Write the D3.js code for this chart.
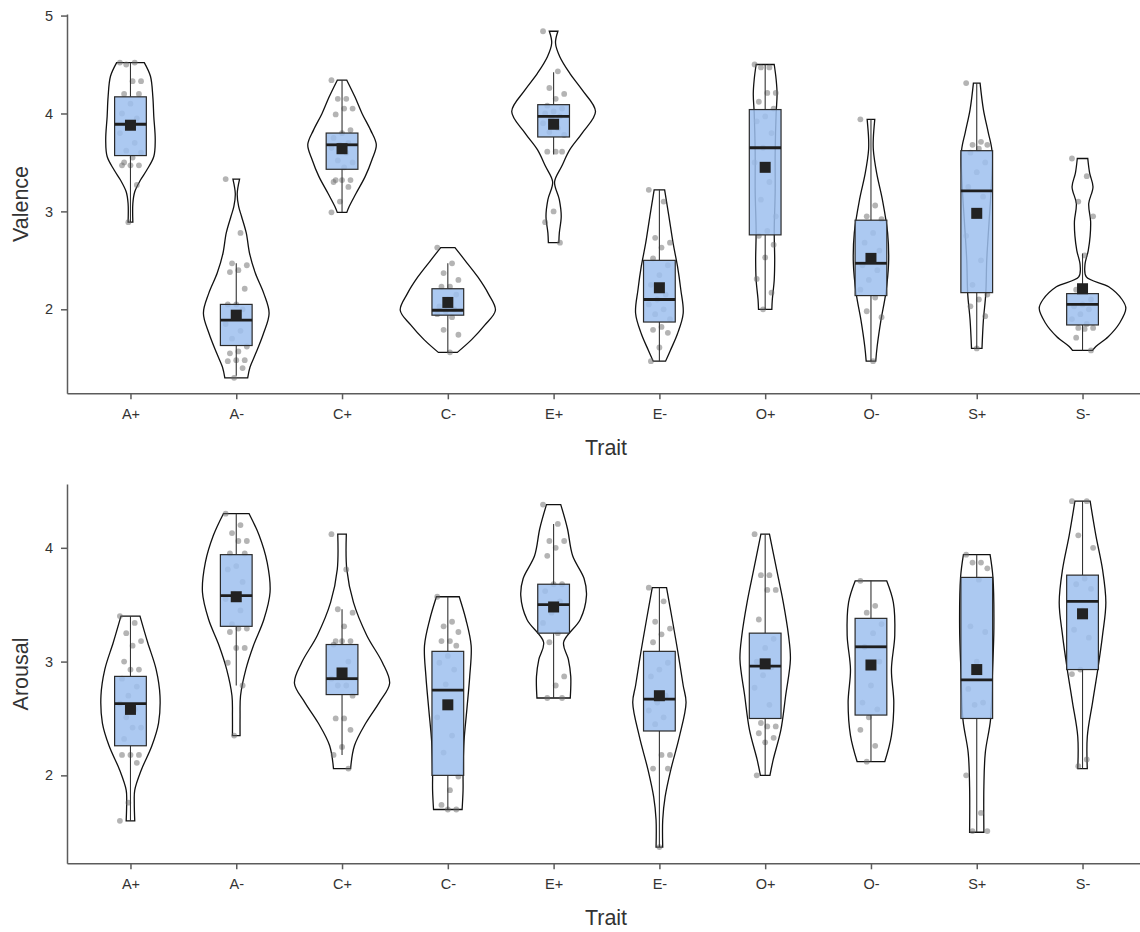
<!DOCTYPE html>
<html>
<head>
<meta charset="utf-8">
<script src="https://cdn.jsdelivr.net/npm/d3@7"></script>
<style>
  body { margin: 0; background: #fff; }
  svg { display: block; font-family: "Liberation Sans", Arial, sans-serif; }
</style>
</head>
<body>
<svg id="chart" width="1140" height="932"></svg>
<script>
// categories
const traits = ['A+', 'A-', 'C+', 'C-', 'E+', 'E-', 'O+', 'O-', 'S+', 'S-'];

// y axes
const valenceDomain = [1.142, 5.016];
const valenceTicks = [2, 3, 4, 5];
const arousalDomain = [1.227, 4.561];
const arousalTicks = [2, 3, 4];

// box stats per trait: [lower whisker, q1, median, q3, upper whisker, mean]
const valenceStats = [
  [2.89, 3.57, 3.89, 4.17, 4.52, 3.88],
  [1.32, 1.63, 1.89, 2.05, 2.47, 1.94],
  [2.99, 3.43, 3.68, 3.80, 4.34, 3.64],
  [1.56, 1.94, 1.99, 2.21, 2.47, 2.07],
  [3.58, 3.76, 3.97, 4.09, 4.42, 3.89],
  [1.47, 1.87, 2.10, 2.50, 3.22, 2.22],
  [2.00, 2.76, 3.65, 4.04, 4.50, 3.45],
  [1.47, 2.14, 2.47, 2.91, 3.94, 2.52],
  [1.60, 2.17, 3.21, 3.62, 4.31, 2.98],
  [1.58, 1.84, 2.05, 2.16, 2.57, 2.21]
];
const arousalStats = [
  [1.60, 2.26, 2.63, 2.87, 3.40, 2.58],
  [2.79, 3.31, 3.58, 3.94, 4.30, 3.57],
  [2.18, 2.71, 2.85, 3.15, 3.46, 2.90],
  [1.70, 2.00, 2.75, 3.09, 3.57, 2.62],
  [2.68, 3.25, 3.50, 3.68, 4.21, 3.48],
  [1.37, 2.39, 2.67, 3.09, 3.65, 2.70],
  [2.00, 2.50, 2.96, 3.25, 4.12, 2.98],
  [2.12, 2.53, 3.13, 3.38, 3.71, 2.97],
  [1.50, 2.50, 2.84, 3.74, 3.94, 2.93],
  [2.06, 2.93, 3.53, 3.76, 4.41, 3.42]
];

// violin density profiles: [value, relative density]
const valenceViolins = [
  [[4.52,.29],[4.38,.42],[4.17,.47],[3.97,.49],[3.73,.52],[3.56,.49],[3.42,.34],[3.32,.21],[3.20,.09],[3.08,.05],[2.89,.05]],
  [[3.33,.07],[3.18,.02],[3.05,.05],[2.95,.11],[2.78,.21],[2.57,.28],[2.37,.40],[2.16,.58],[1.96,.69],[1.75,.57],[1.55,.41],[1.41,.29],[1.30,.24]],
  [[4.34,.10],[4.17,.27],[4.00,.42],[3.83,.60],[3.68,.72],[3.53,.63],[3.36,.49],[3.18,.29],[3.05,.15],[2.99,.10]],
  [[2.63,.15],[2.50,.36],[2.33,.63],[2.16,.85],[1.99,1.0],[1.84,.78],[1.69,.50],[1.56,.20]],
  [[4.84,.09],[4.72,.04],[4.58,.13],[4.41,.34],[4.24,.60],[4.02,.88],[3.80,.60],[3.63,.34],[3.46,.17],[3.30,.02],[3.12,.12],[2.95,.16],[2.78,.12],[2.68,.11]],
  [[3.22,.11],[2.95,.20],[2.67,.29],[2.44,.38],[2.20,.45],[1.96,.50],[1.75,.38],[1.58,.23],[1.47,.13]],
  [[4.50,.19],[4.35,.23],[4.20,.25],[4.00,.23],[3.60,.21],[3.20,.21],[2.80,.19],[2.50,.20],[2.30,.19],[2.10,.15],[2.00,.14]],
  [[3.94,.08],[3.75,.05],[3.63,.05],[3.39,.12],[3.12,.24],[2.78,.35],[2.47,.37],[2.16,.31],[1.89,.21],[1.62,.13],[1.47,.10]],
  [[4.31,.07],[4.04,.14],[3.81,.24],[3.62,.32],[3.30,.31],[2.90,.26],[2.50,.21],[2.16,.19],[1.89,.14],[1.60,.11]],
  [[3.54,.11],[3.39,.15],[3.25,.22],[3.08,.13],[2.90,.17],[2.75,.16],[2.60,.12],[2.45,.05],[2.33,.08],[2.23,.55],[2.10,.83],[2.01,.91],[1.86,.78],[1.72,.54],[1.62,.28],[1.58,.21]]
];
const arousalViolins = [
  [[3.40,.20],[3.17,.36],[2.93,.54],[2.70,.62],[2.46,.59],[2.26,.45],[2.05,.23],[1.87,.09],[1.76,.08],[1.60,.09]],
  [[4.30,.27],[4.11,.48],[3.87,.65],[3.61,.71],[3.37,.58],[3.14,.36],[2.93,.20],[2.70,.09],[2.52,.08],[2.35,.08]],
  [[4.12,.09],[3.81,.10],[3.52,.24],[3.23,.52],[2.99,.85],[2.81,1.0],[2.64,.78],[2.46,.50],[2.26,.26],[2.06,.18]],
  [[3.57,.24],[3.37,.38],[3.14,.49],[2.87,.46],[2.58,.40],[2.30,.34],[2.05,.32],[1.87,.32],[1.70,.30]],
  [[4.38,.15],[4.17,.29],[3.93,.40],[3.73,.64],[3.58,.69],[3.37,.56],[3.17,.21],[3.02,.31],[2.87,.36],[2.68,.35]],
  [[3.65,.15],[3.37,.27],[3.08,.39],[2.79,.50],[2.64,.56],[2.34,.42],[2.05,.24],[1.81,.12],[1.61,.07],[1.37,.07]],
  [[4.12,.09],[3.81,.24],[3.52,.38],[3.23,.49],[3.02,.53],[2.70,.43],[2.40,.33],[2.14,.17],[2.00,.10]],
  [[3.71,.33],[3.52,.47],[3.23,.50],[2.93,.43],[2.64,.48],[2.35,.43],[2.12,.29]],
  [[3.94,.28],[3.74,.34],[3.30,.36],[2.90,.33],[2.49,.29],[2.20,.18],[1.90,.15],[1.50,.15]],
  [[4.41,.16],[4.11,.28],[3.81,.42],[3.52,.49],[3.23,.42],[2.93,.32],[2.64,.21],[2.34,.10],[2.06,.10]]
];

// individual ratings (jittered points)
const valencePoints = [
  [4.52,4.52,4.50,4.33,4.33,4.20,4.20,4.10,4.00,3.95,3.85,3.80,3.70,3.62,3.60,3.55,3.50,3.47,3.47,3.47,3.27,2.89],
  [3.33,2.78,2.47,2.45,2.40,2.38,2.21,2.05,2.05,2.00,1.92,1.85,1.78,1.70,1.62,1.57,1.55,1.48,1.48,1.47,1.40,1.30],
  [4.34,4.15,4.15,4.05,4.05,3.99,3.83,3.80,3.75,3.70,3.68,3.65,3.60,3.52,3.50,3.45,3.32,3.32,3.32,3.30,3.25,3.10,2.99],
  [2.63,2.47,2.37,2.30,2.23,2.23,2.15,2.10,2.03,2.00,1.98,1.95,1.92,1.79,1.74,1.56],
  [4.84,4.43,4.26,4.20,4.15,4.08,4.05,4.02,4.00,3.97,3.95,3.90,3.85,3.81,3.78,3.61,3.61,3.61,3.00,2.89,2.68],
  [3.22,3.10,2.73,2.68,2.63,2.52,2.45,2.35,2.25,2.15,2.10,2.05,2.00,1.95,1.90,1.82,1.79,1.76,1.61,1.47],
  [4.50,4.47,4.47,4.21,4.21,4.12,4.05,3.97,3.92,3.80,3.65,3.50,3.30,3.12,2.95,2.80,2.75,2.66,2.53,2.31,2.17,2.00],
  [3.94,3.06,2.95,2.92,2.78,2.68,2.60,2.50,2.45,2.40,2.30,2.20,2.12,1.98,1.92,1.47],
  [4.31,3.71,3.68,3.68,3.64,3.60,3.50,3.40,3.25,3.15,2.95,2.75,2.50,2.25,2.15,2.10,2.03,1.93,1.60],
  [3.54,3.36,3.10,2.95,2.55,2.20,2.10,2.05,2.03,2.00,1.95,1.90,1.85,1.81,1.81,1.80,1.71,1.58]
];
const arousalPoints = [
  [3.40,3.34,3.25,3.18,3.14,3.00,2.93,2.93,2.85,2.78,2.70,2.63,2.58,2.51,2.42,2.42,2.32,2.18,2.18,2.18,2.11,1.76,1.60],
  [4.30,4.20,4.13,4.06,4.06,3.95,3.95,3.84,3.81,3.70,3.60,3.55,3.45,3.33,3.29,3.29,3.26,3.12,3.12,2.99,2.79,2.35],
  [4.12,3.81,3.46,3.43,3.31,3.18,3.18,3.18,3.15,3.00,2.90,2.85,2.79,2.79,2.70,2.50,2.50,2.40,2.25,2.18,2.06],
  [3.57,3.35,3.31,3.26,3.18,3.18,3.14,3.05,2.99,2.93,2.80,2.51,2.35,2.20,1.99,1.87,1.74,1.70,1.70],
  [4.38,4.21,4.06,4.06,4.00,3.93,3.68,3.68,3.62,3.53,3.43,3.34,3.25,3.17,2.87,2.79,2.68,2.68],
  [3.65,3.53,3.35,3.29,3.24,3.17,2.99,2.93,2.87,2.70,2.64,2.57,2.51,2.45,2.18,2.18,2.06,2.06,1.37],
  [4.12,3.76,3.76,3.63,3.63,3.37,3.20,3.12,3.00,2.95,2.88,2.77,2.62,2.46,2.43,2.43,2.37,2.33,2.29,2.00],
  [3.71,3.49,3.43,3.33,3.25,3.13,3.00,2.79,2.64,2.58,2.51,2.40,2.26,2.12],
  [3.94,3.87,3.87,3.82,3.72,3.31,3.26,3.00,2.76,2.64,2.62,2.00,1.67,1.51,1.51],
  [4.41,4.41,4.11,4.00,3.73,3.68,3.64,3.45,3.28,3.21,2.93,2.89,2.14,2.08]
];

const svg = d3.select('#chart');
svg.append('rect').attr('width', 1140).attr('height', 932).attr('fill', '#fff');

function drawPanel(offsetY, yDomain, yTicks, yTitle, stats, violins, points) {
  const g = svg.append('g').attr('transform', `translate(0,${offsetY})`);

  const x = d3.scalePoint().domain(traits).range([67, 1146]).padding(0.6);
  const y = d3.scaleLinear().domain(yDomain).range([393.3, 14]);
  const step = x.step();
  const w = d3.scaleLinear().domain([0, 1]).range([0, 0.45 * step]);
  const boxW = 0.3 * step;
  const jitter = i => (((i * 7) % 11) - 5) / 5 * 0.1 * step;

  const area = d3.area()
    .y(d => y(d[0]))
    .x0(d => -w(d[1]))
    .x1(d => w(d[1]))
    .curve(d3.curveCatmullRom);

  // violins
  g.append('g').selectAll('path')
    .data(violins)
    .join('path')
    .attr('transform', (d, i) => `translate(${x(traits[i])},0)`)
    .attr('d', d => area(d))
    .attr('fill', '#fff')
    .attr('stroke', '#111')
    .attr('stroke-width', 1.3);

  // jittered points
  points.forEach((vals, k) => {
    g.append('g').selectAll('circle')
      .data(vals)
      .join('circle')
      .attr('cx', (d, i) => x(traits[k]) + jitter(i))
      .attr('cy', d => y(d))
      .attr('r', 2.9)
      .attr('fill', '#6a6a6a')
      .attr('fill-opacity', 0.5);
  });

  // box plots
  const boxes = g.append('g').selectAll('g')
    .data(stats)
    .join('g')
    .attr('transform', (d, i) => `translate(${x(traits[i])},0)`);

  boxes.append('line')
    .attr('y1', d => y(d[0])).attr('y2', d => y(d[1]))
    .attr('stroke', '#333').attr('stroke-width', 1.1);
  boxes.append('line')
    .attr('y1', d => y(d[3])).attr('y2', d => y(d[4]))
    .attr('stroke', '#333').attr('stroke-width', 1.1);
  boxes.append('rect')
    .attr('x', -boxW / 2)
    .attr('y', d => y(d[3]))
    .attr('width', boxW)
    .attr('height', d => y(d[1]) - y(d[3]))
    .attr('fill', '#9dc0ef')
    .attr('fill-opacity', 0.85)
    .attr('stroke', '#2a2a2a')
    .attr('stroke-width', 1.2);
  boxes.append('line')
    .attr('x1', -boxW / 2).attr('x2', boxW / 2)
    .attr('y1', d => y(d[2])).attr('y2', d => y(d[2]))
    .attr('stroke', '#1e1e1e').attr('stroke-width', 2.8);
  boxes.append('rect')
    .attr('x', -5.5).attr('y', d => y(d[5]) - 5.5)
    .attr('width', 11).attr('height', 11)
    .attr('fill', '#222');

  // axes
  const xAxis = g.append('g')
    .attr('transform', 'translate(0,393.3)')
    .call(d3.axisBottom(x).tickSize(6).tickSizeOuter(0).tickPadding(9));
  const yAxis = g.append('g')
    .attr('transform', 'translate(67,0)')
    .call(d3.axisLeft(y).tickValues(yTicks).tickFormat(d3.format('d'))
      .tickSize(6).tickSizeOuter(0).tickPadding(8));

  [xAxis, yAxis].forEach(a => {
    a.select('.domain').attr('stroke', '#5c5c5c').attr('stroke-width', 1.5);
    a.selectAll('.tick line').attr('stroke', '#5c5c5c').attr('stroke-width', 1.5);
    a.selectAll('.tick text')
      .attr('fill', '#333')
      .style('font-size', '14.5px')
      .style('font-family', '"Liberation Sans", Arial, sans-serif');
  });

  g.append('text')
    .attr('x', 606).attr('y', 455)
    .attr('text-anchor', 'middle')
    .attr('fill', '#333')
    .style('font-size', '21.5px')
    .text('Trait');

  g.append('text')
    .attr('transform', 'translate(28,204) rotate(-90)')
    .attr('text-anchor', 'middle')
    .attr('fill', '#333')
    .style('font-size', '21.5px')
    .text(yTitle);
}

drawPanel(0, valenceDomain, valenceTicks, 'Valence', valenceStats, valenceViolins, valencePoints);
drawPanel(470, arousalDomain, arousalTicks, 'Arousal', arousalStats, arousalViolins, arousalPoints);
</script>
</body>
</html>
